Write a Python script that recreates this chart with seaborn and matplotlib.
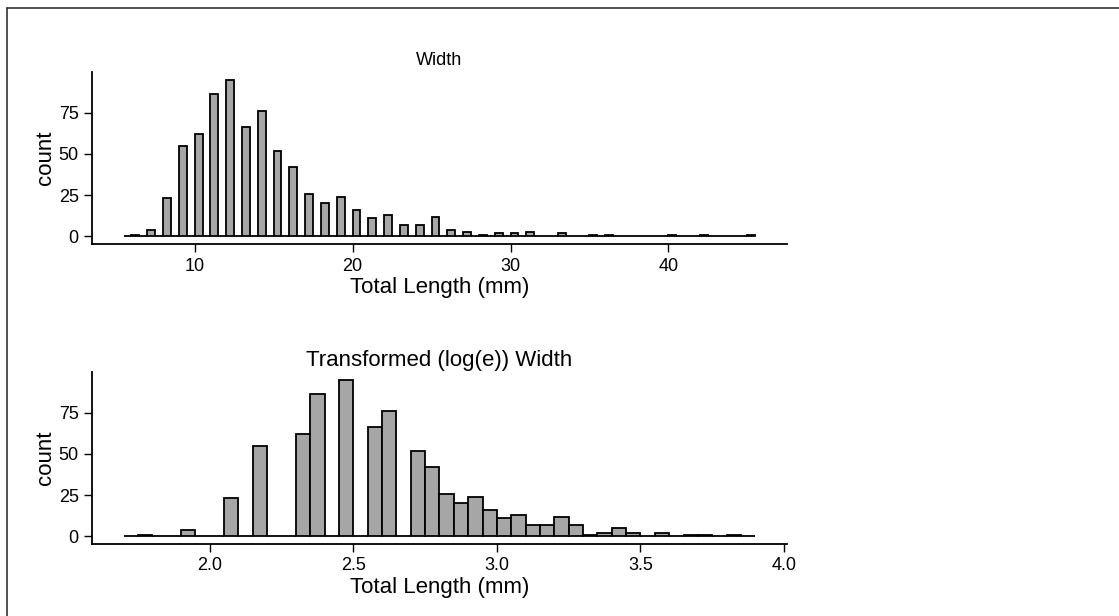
import matplotlib
matplotlib.use("Agg")
import matplotlib.pyplot as plt
from matplotlib.lines import Line2D
import numpy as np
import pandas as pd
import seaborn as sns

# width values (mm) and how many animals had each one
widths = [6, 7, 8, 9, 10, 11, 12, 13, 14, 15, 16, 17, 18, 19, 20, 21, 22, 23,
          24, 25, 26, 27, 28, 29, 30, 31, 33, 35, 36, 40, 42, 45]
counts = [1, 4, 23, 55, 62, 86, 95, 66, 76, 52, 42, 26, 20, 24, 16, 11, 13, 7,
          7, 12, 4, 3, 1, 2, 2, 3, 2, 1, 1, 1, 1, 1]

top_title = "Width"
bottom_title = "Transformed (log(e)) Width"
x_label = "Total Length (mm)"
y_label = "count"
y_ticks = [0, 25, 50, 75]
top_xticks = [10, 20, 30, 40]
bottom_xticks = [2.0, 2.5, 3.0, 3.5, 4.0]

df = pd.DataFrame({"width": widths, "n": counts})
df["log_width"] = np.log(df["width"])

sns.set_style("ticks")
plt.rcParams["font.family"] = ["Liberation Sans", "DejaVu Sans"]
plt.rcParams["text.color"] = "black"

fig = plt.figure(figsize=(11.19, 6.16), dpi=100)
ax1 = fig.add_axes([0.0822, 0.6034, 0.621, 0.2802])
ax2 = fig.add_axes([0.0822, 0.1164, 0.621, 0.2802])

bar_kw = dict(color="#a6a6a6", edgecolor="black", linewidth=1.3, alpha=1)

# raw widths: narrow bins so the integer values show as separate bars
sns.histplot(data=df, x="width", weights="n", binwidth=0.5,
             binrange=(5.5, 45.5), ax=ax1, **bar_kw)

# log transformed widths
sns.histplot(data=df, x="log_width", weights="n", binwidth=0.05,
             binrange=(1.70, 3.90), ax=ax2, **bar_kw)

ax1.set_xlim(3.5, 47.5)
ax2.set_xlim(1.59, 4.01)
ax1.set_xticks(top_xticks)
ax2.set_xticks(bottom_xticks)
ax2.set_xticklabels([f"{t:.1f}" for t in bottom_xticks])

for ax in (ax1, ax2):
    ax.set_ylim(-4.75, 99.75)
    ax.set_yticks(y_ticks)
    ax.set_xlabel(x_label, fontsize=16, labelpad=2, color="black")
    ax.set_ylabel(y_label, fontsize=16, labelpad=2, color="black")
    ax.tick_params(labelsize=13, length=5.5, width=1, color="black",
                   labelcolor="black", pad=4)
    for s in ("left", "bottom"):
        ax.spines[s].set_linewidth(1.3)
        ax.spines[s].set_color("black")
    sns.despine(ax=ax)

ax1.set_title(top_title, fontsize=13, pad=5, color="black")
ax2.set_title(bottom_title, fontsize=16, pad=4, color="black")

# partial frame: only the top and left edges show in the original
W, H = 1119, 616
fig.add_artist(Line2D([7 / W, 1], [1 - 8 / H, 1 - 8 / H],
                      transform=fig.transFigure, color="#333333", linewidth=1.2))
fig.add_artist(Line2D([7 / W, 7 / W], [0, 1 - 8 / H],
                      transform=fig.transFigure, color="#333333", linewidth=1.2))

fig.savefig("out.png", dpi=100)
